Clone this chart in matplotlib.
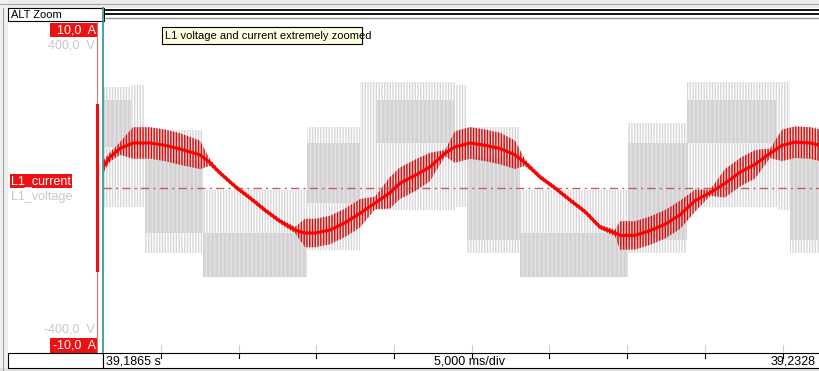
import numpy as np
import matplotlib
matplotlib.use("Agg")
import matplotlib.pyplot as plt
from matplotlib.patches import Rectangle

plt.rcParams['font.family'] = ['Liberation Sans', 'DejaVu Sans']
plt.rcParams['hatch.linewidth'] = 1.0

# time axis: ms since 39,1865 s
t_span = 46.14
tick_ms = [3.73, 8.73, 13.73, 18.73, 23.73, 28.73, 33.73, 38.73, 43.73]

# L1_current, center line (A) and ripple half width (A)
cur_t = [0.00, 0.45, 1.09, 1.93, 3.02, 3.99, 4.95, 6.24, 6.89, 7.53, 8.62, 9.46,
         10.42, 11.39, 12.36, 13.00, 13.64, 14.61, 15.57, 16.54, 17.50, 18.47,
         19.11, 20.08, 21.04, 22.01, 22.65, 23.62, 24.58, 25.55, 26.51, 27.16,
         28.12, 29.09, 30.05, 31.02, 31.98, 32.95, 33.27, 34.23, 35.20, 36.16,
         37.13, 38.10, 39.07, 40.03, 41.00, 41.96, 42.93, 43.70, 44.53, 45.50, 46.14]
cur_a = [1.33, 1.96, 2.50, 2.85, 2.85, 2.70, 2.47, 2.10, 1.60, 0.95, 0.00, -0.63,
         -1.40, -2.10, -2.66, -2.85, -2.85, -2.66, -2.20, -1.60, -0.95, -0.30,
         0.30, 0.80, 1.33, 2.20, 2.60, 2.85, 2.70, 2.50, 2.10, 1.60,
         0.70, 0.00, -0.76, -1.50, -2.47, -2.85, -3.00, -3.00, -2.70, -2.30,
         -1.70, -0.80, -0.30, 0.30, 1.00, 1.50, 2.20, 2.70, 2.90, 2.85, 2.70]
cur_rip = [0.4, 0.3, 0.4, 1.0, 1.0, 1.0, 1.0, 0.9, 0.2, 0.15, 0.15, 0.15,
           0.15, 0.15, 0.2, 0.9, 0.9, 0.9, 0.9, 0.9, 0.4, 1.0,
           1.0, 1.0, 0.9, 0.2, 1.0, 1.0, 1.0, 1.0, 0.9, 0.2,
           0.15, 0.15, 0.15, 0.15, 0.15, 0.2, 0.9, 0.9, 0.9, 0.9,
           0.9, 0.7, 0.2, 0.9, 0.9, 0.9, 0.3, 1.0, 1.0, 1.0, 1.0]

# L1_voltage, PWM blocks (V): segment start/end, spike range, dense band
volt_t0 = [0.00, 1.87, 2.70, 6.44, 13.13, 16.54, 17.63, 22.65, 23.42, 26.83, 33.78, 37.58, 43.37, 44.21]
volt_t1 = [1.87, 2.70, 6.44, 13.13, 16.54, 17.63, 22.65, 23.42, 26.83, 33.78, 37.58, 43.37, 44.21, 46.14]
volt_lo = [-48, -48, -165, -225, -157, -56, -56, -48, -165, -225, -165, -48, -56, -165]
volt_hi = [256, 261, 147, -5, 154, 268, 268, 261, 154, -5, 165, 268, 268, 154]
band_lo = [104, np.nan, -114, -225, -38, np.nan, 114, np.nan, -132, -225, -132, 114, np.nan, -132]
band_hi = [223, np.nan, 71, -114, 114, np.nan, 223, np.nan, 78, -114, 114, 223, np.nan, 78]

W, H = 820, 371
fig = plt.figure(figsize=(W / 100, H / 100), dpi=100, facecolor='white')

# background / window frame in pixel coordinates
bg = fig.add_axes([0, 0, 1, 1], zorder=0)
bg.set_xlim(0, W)
bg.set_ylim(H, 0)
bg.axis('off')
bg.add_patch(Rectangle((0, 0), W, 8, color='#ececec', lw=0))
bg.plot([0, W], [3.5, 3.5], color='#a8a8a8', lw=0.8)
bg.add_patch(Rectangle((0, 0), 8, H, color='#f0f0f0', lw=0))
bg.plot([3, 3], [8, H], color='#a0a0a0', lw=0.8)
bg.add_patch(Rectangle((0, 368), W, 3, color='#e0e0e0', lw=0))

# main plot area
x0, x1, ytop, ybot = 103, 820, 21, 352
ax = fig.add_axes([x0 / W, (H - ybot) / H, (x1 - x0) / W, (ybot - ytop) / H], zorder=1)
a_top = (188 - ytop) / 15.8
a_bot = -(ybot - 188) / 15.8
ax.set_xlim(0, t_span)
ax.set_ylim(a_bot * 40, a_top * 40)
ax.axis('off')

for i in range(len(volt_t0)):
    ax.fill_between([volt_t0[i], volt_t1[i]], [volt_lo[i]] * 2, [volt_hi[i]] * 2,
                    facecolor='none', edgecolor='#d8d5d9', hatch='||||||', lw=0)
    ax.fill_between([volt_t0[i], volt_t1[i]], [band_lo[i]] * 2, [band_hi[i]] * 2,
                    facecolor='#d5d2d6', edgecolor='#e4e2e5', hatch='||||', lw=0)

axc = ax.twinx()
axc.set_position(ax.get_position())
axc.set_ylim(a_bot, a_top)
axc.axis('off')
axc.axhline(0, color='#c06060', lw=1.0, ls=(0, (6, 3, 1.5, 3)))
lo = np.array(cur_a) - np.array(cur_rip)
hi = np.array(cur_a) + np.array(cur_rip)
axc.fill_between(cur_t, lo, hi, facecolor=(0.95, 0.6, 0.6, 0.45), edgecolor='#c41414',
                 hatch='||||||', lw=0)
axc.plot(cur_t, cur_a, color='#ff0000', lw=2.2, solid_capstyle='butt')

# overlay: labels, cursor, bars
fg = fig.add_axes([0, 0, 1, 1], zorder=5)
fg.set_xlim(0, W)
fg.set_ylim(H, 0)
fg.axis('off')
fg.patch.set_alpha(0)

# top scroll lines
fg.plot([106, W], [10, 10], color='black', lw=1.3)
fg.plot([106, W], [14, 14], color='black', lw=1.3)
fg.plot([106, W], [18, 18], color='#909090', lw=1.0)
fg.add_patch(Rectangle((8, 8), 96, 13, facecolor='white', edgecolor='black', lw=0.8))
fg.text(11, 14.5, 'ALT Zoom', fontsize=8, va='center', ha='left')

# cursor
fg.plot([103, 103], [8, 352], color='#3c9a9a', lw=1.3)

# channel markers
fg.plot([97, 97], [22, 352], color='#e07070', lw=0.8)
fg.plot([97, 97], [105, 270], color='#ee1111', lw=2.2)


def red_label(x, y, w, h, s, ha='right'):
    fg.add_patch(Rectangle((x, y), w, h, facecolor='#ee1111', lw=0))
    tx = x + w - 2 if ha == 'right' else x + 1
    fg.text(tx, y + h / 2 + 0.5, s, color='white', fontsize=9, ha=ha, va='center')


red_label(50, 23, 48, 14, '10,0  A')
fg.text(95, 46, '400,0  V', color='#c8c8c8', fontsize=9, ha='right', va='center')
red_label(10, 174, 62, 14, 'L1_current', ha='left')
fg.text(11, 197, 'L1_voltage', color='#c8c8c8', fontsize=9, ha='left', va='center')
fg.text(95, 330, '-400,0  V', color='#c8c8c8', fontsize=9, ha='right', va='center')
red_label(50, 338, 48, 15, '-10,0  A')

# tooltip
fg.add_patch(Rectangle((162, 27), 200, 17, facecolor='#ffffe1', edgecolor='black', lw=0.8))
fg.text(165, 36, 'L1 voltage and current extremely zoomed', fontsize=8, va='center', ha='left')

# bottom time bar
fg.add_patch(Rectangle((8, 353), 95, 15, facecolor='white', edgecolor='black', lw=0.8))
fg.add_patch(Rectangle((103, 353), 717, 15, facecolor='white', edgecolor='black', lw=0.8))
for tm in tick_ms:
    px = x0 + tm * (x1 - x0) / t_span
    fg.plot([px, px], [353, 358], color='black', lw=0.8)
    fg.plot([px, px], [345, 352], color='#d0d0d0', lw=0.8)
fg.text(106, 361, '39,1865 s', fontsize=9, va='center', ha='left')
fg.text(434, 361, '5,000 ms/div', fontsize=9, va='center', ha='left')
fg.text(816, 361, '39,2328', fontsize=9, va='center', ha='right')

fig.savefig('out.png', dpi=100)
